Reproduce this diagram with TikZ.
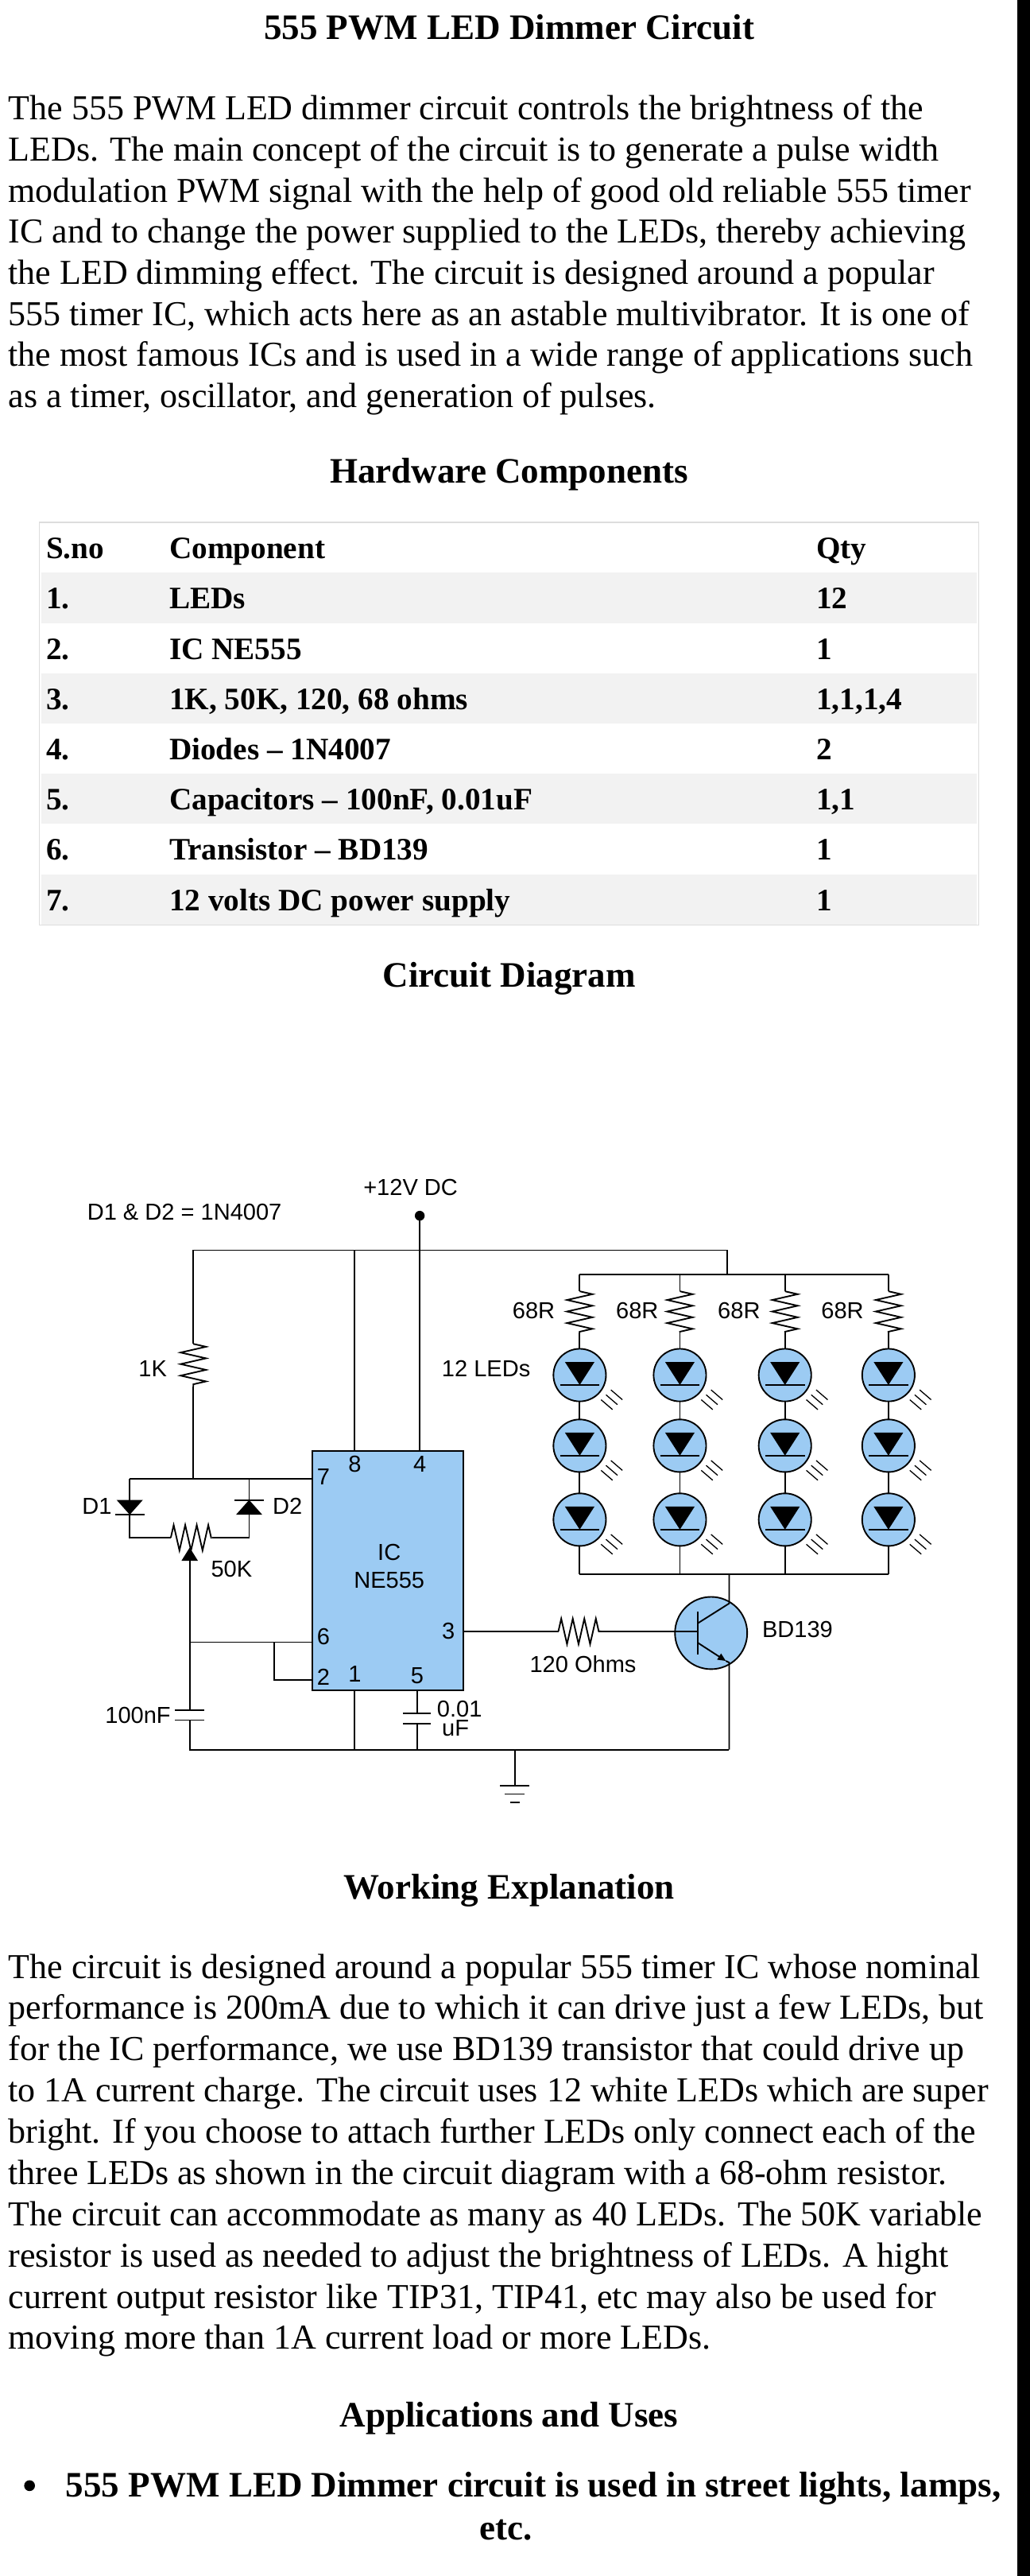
\documentclass[tikz,border=0pt]{standalone}
\usepackage{fontspec}
\setmainfont{Liberation Serif}
\newfontfamily\cktfont{Liberation Sans}
\usetikzlibrary{decorations.pathmorphing,arrows.meta}

\definecolor{ledblue}{HTML}{9CCBF3}
\definecolor{rowgray}{HTML}{F2F2F2}
\definecolor{tblline}{HTML}{DDDDDD}

\tikzset{
	body/.style={anchor=base west,inner sep=0,font=\fontsize{30.3}{36}\selectfont},
	head/.style={anchor=base,inner sep=0,font=\fontsize{31}{36}\selectfont\bfseries},
	cell/.style={anchor=base west,inner sep=0,font=\fontsize{27}{32}\selectfont\bfseries},
	lbl/.style={inner sep=0,font=\fontsize{20}{22}\selectfont\cktfont},
	wire/.style={line width=1.3pt},
	res/.style={wire,decorate,decoration={zigzag,segment length=10pt,amplitude=11pt}},
}

% one LED at (#1,#2)
\newcommand{\ledsym}[2]{%
	\draw[wire,fill=ledblue] (#1,#2) circle (16);
	\fill (#1-9,#2-8) -- (#1+9,#2-8) -- (#1,#2+6) -- cycle;
	\draw[wire] (#1-12,#2+6) -- (#1+12,#2+6);
	\foreach \k in {0,1,2}
		\draw[line width=0.9pt] (#1+13+3*\k,#2+15-3*\k) -- ++(7,6);
}

\begin{document}
\begin{tikzpicture}[x=0.05cm,y=-0.05cm]
	\useasboundingbox (0,0) rectangle (627,1568);
	\fill (619.3,0) rectangle (627,1568);
	% title and intro
	\node[head] (title) at (310,24) {555 PWM LED Dimmer Circuit};
	\foreach \txt [count=\i] in {
		The 555 PWM LED dimmer circuit controls the brightness of the,
		LEDs. The main concept of the circuit is to generate a pulse width,
		modulation PWM signal with the help of good old reliable 555 timer,
		IC and to change the power supplied to the LEDs{,} thereby achieving,
		the LED dimming effect. The circuit is designed around a popular,
		555 timer IC{,} which acts here as an astable multivibrator. It is one of,
		the most famous ICs and is used in a wide range of applications such,
		as a timer{,} oscillator{,} and generation of pulses.}
		\node[body] (intro\i) at (5,48+25*\i) {\txt};
	% components table
	\node[head] (hwhead) at (310,294) {Hardware Components};
	\draw[tblline,line width=1pt] (24,318) rectangle (596,563);
	\foreach \r in {1,3,5,7}
		\fill[rowgray] (25,318+30.6*\r) rectangle (595,348.6+30.6*\r);
	\foreach \a/\b/\c [count=\i from 0] in {
		S.no/Component/Qty,
		1./LEDs/12,
		2./IC NE555/1,
		3./{1K, 50K, 120, 68 ohms}/{1,1,1,4},
		4./Diodes -- 1N4007/2,
		5./{Capacitors -- 100nF, 0.01uF}/{1,1},
		6./Transistor -- BD139/1,
		7./12 volts DC power supply/1}{
		\node[cell] (sno\i) at (28,340+30.6*\i) {\a};
		\node[cell] (comp\i) at (103,340+30.6*\i) {\b};
		\node[cell] (qty\i) at (497,340+30.6*\i) {\c};
	}
	\node[head] (ckthead) at (310,601) {Circuit Diagram};

	% ---------- circuit ----------
	\node[lbl,anchor=west] (dnote) at (53,738) {D1 \& D2 = 1N4007};
	\node[lbl] (vcc) at (250,723) {+12V DC};
	\coordinate (vdot) at (255.6,740);
	\fill (vdot) circle (3);
	% IC
	\draw[wire,fill=ledblue] (190,883) rectangle (282,1029);
	\node[lbl] (ic) at (237,945) {IC};
	\node[lbl] (ne) at (237,962) {NE555};
	\foreach \p/\x/\y in {8/216/891,4/255.6/891,7/197/899,6/197/996,2/197/1021,1/216/1019,5/254/1020,3/273/993}
		\node[lbl] (pin\p) at (\x,\y) {\p};
	% supply rail
	\coordinate (tl) at (117.7,761);
	\coordinate (tr) at (443,761);
	\coordinate (p8) at (216,883);
	\coordinate (p4) at (255.6,883);
	\draw[wire] (tl) -- (tr) -- (443,775.7);
	\draw[wire] (216,761) -- (p8);
	\draw[wire] (vdot) -- (p4);
	% 1K and diodes
	\draw[wire] (tl) -- (117.7,818);
	\draw[res] (117.7,818) -- (117.7,844);
	\node[lbl] (r1k) at (93,833) {1K};
	\coordinate (p7) at (190,900);
	\draw[wire] (117.7,844) -- (117.7,900);
	\draw[wire] (79,900) -- (p7);
	\draw[wire] (79,900) -- (79,936) -- (104,936);
	\draw[wire] (151.7,900) -- (151.7,936) -- (129,936);
	\fill (71,913) -- (87,913) -- (79,922) -- cycle;
	\draw[wire] (70,922) -- (88,922);
	\fill (143.7,922) -- (159.7,922) -- (151.7,913) -- cycle;
	\draw[wire] (142.7,913) -- (160.7,913);
	\node[lbl] (d1) at (59,917) {D1};
	\node[lbl] (d2) at (175,917) {D2};
	\draw[res] (104,936) -- (129,936);
	\fill (115.5,942) -- (110.5,950) -- (120.5,950) -- cycle;
	\node[lbl] (r50k) at (141,955) {50K};
	% timing cap and pins 6/2
	\coordinate (p6) at (190,999.6);
	\coordinate (p2) at (190,1022.6);
	\draw[wire] (115.5,950) -- (115.5,1041);
	\draw[wire] (115.5,999.6) -- (p6);
	\draw[wire] (166.8,999.6) -- (166.8,1022.6) -- (p2);
	\draw[wire] (106.5,1041) -- (124.5,1041);
	\draw[wire] (106.5,1047) -- (124.5,1047);
	\node[lbl] (c100) at (84,1044) {100nF};
	% ground rail
	\coordinate (gl) at (115.5,1065);
	\coordinate (gr) at (444,1065);
	\coordinate (gnd) at (313.5,1087);
	\draw[wire] (115.5,1047) -- (gl) -- (gr);
	\draw[wire] (216,1029) -- (216,1065);
	\draw[wire] (254,1029) -- (254,1043);
	\draw[wire] (245.5,1043) -- (262.5,1043);
	\draw[wire] (245.5,1049) -- (262.5,1049);
	\draw[wire] (254,1049) -- (254,1065);
	\node[lbl,anchor=west] (c001) at (266,1040) {0.01};
	\node[lbl,anchor=west] (c001b) at (269,1052) {uF};
	\draw[wire] (313.5,1065) -- (gnd);
	\draw[wire] (304.5,1087) -- (322.5,1087);
	\draw[wire] (307.5,1092) -- (319.5,1092);
	\draw[wire] (310.5,1097) -- (316.5,1097);
	% output to transistor
	\coordinate (p3) at (282,993);
	\draw[wire] (p3) -- (340,993);
	\draw[res] (340,993) -- (366,993);
	\draw[wire] (366,993) -- (411,993);
	\node[lbl] (r120) at (355,1013) {120 Ohms};
	\draw[wire,fill=ledblue] (433,994) circle (22);
	\draw[wire] (425,981) -- (425,1007);
	\draw[wire] (411,993) -- (425,993);
	\draw[wire] (425,988) -- (444,976) -- (444,958);
	\draw[wire,-{Triangle[length=7pt,width=6pt]}] (425,1000) -- (442,1011);
	\draw[wire] (442,1011) -- (444,1012) -- (gr);
	\node[lbl,anchor=west] (bd) at (464,992) {BD139};
	% LED strings
	\node[lbl] (leds) at (296,833) {12 LEDs};
	\draw[wire] (353,775.7) -- (541,775.7);
	\draw[wire] (353,958) -- (541,958);
	\foreach \x/\lx in {353/325,414/388,478/450,541/513}{
		\draw[wire] (\x,775.7) -- (\x,786);
		\draw[res] (\x,786) -- (\x,811);
		\draw[wire] (\x,811) -- (\x,958);
		\node[lbl] at (\lx,798) {68R};
		\ledsym{\x}{837}
		\ledsym{\x}{880}
		\ledsym{\x}{925}
	}

	% explanation
	\node[head] (workhead) at (310,1156) {Working Explanation};
	\foreach \txt [count=\i] in {
		The circuit is designed around a popular 555 timer IC whose nominal,
		performance is 200mA due to which it can drive just a few LEDs{,} but,
		for the IC performance{,} we use BD139 transistor that could drive up,
		to 1A current charge. The circuit uses 12 white LEDs which are super,
		bright. If you choose to attach further LEDs only connect each of the,
		three LEDs as shown in the circuit diagram with a 68-ohm resistor.,
		The circuit can accommodate as many as 40 LEDs. The 50K variable,
		resistor is used as needed to adjust the brightness of LEDs. A hight,
		current output resistor like TIP31{,} TIP41{,} etc may also be used for,
		moving more than 1A current load or more LEDs.}
		\node[body] (work\i) at (5,1179+25.1*\i) {\txt};
	\node[head] (apphead) at (310,1477) {Applications and Uses};
	\fill (18,1513) circle (3.3);
	\node[head,anchor=base west] (app1) at (40,1520) {555 PWM LED Dimmer circuit is used in street lights, lamps,};
	\node[head] (app2) at (308,1546) {etc.};
\end{tikzpicture}
\end{document}
